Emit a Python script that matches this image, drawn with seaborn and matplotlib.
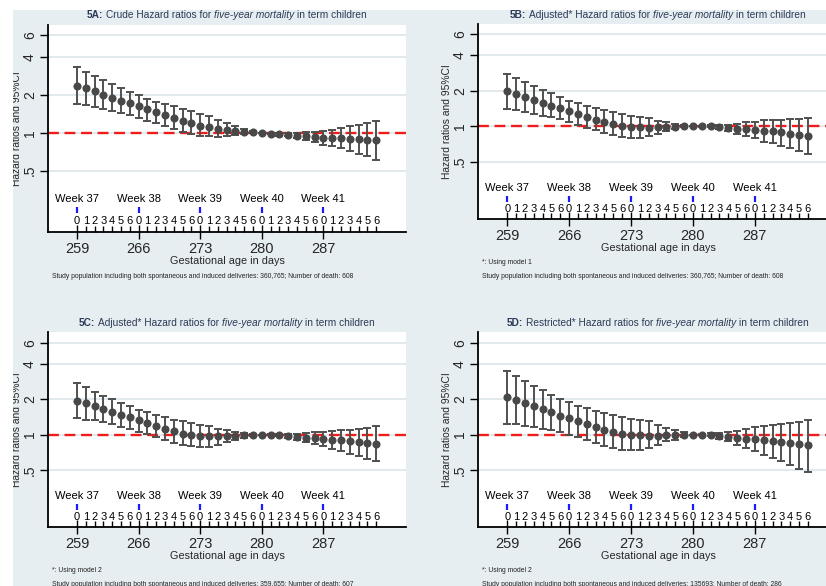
import matplotlib
matplotlib.use("Agg")
import matplotlib.pyplot as plt
import numpy as np
import pandas as pd
import seaborn as sns
from matplotlib.transforms import blended_transform_factory, ScaledTranslation
from matplotlib.ticker import FixedLocator, NullLocator
from matplotlib.patches import Rectangle

# ---------------- data ----------------
days = list(range(259, 294))
day_of_week_labels = ["0", "1", "2", "3", "4", "5", "6"] * 5
week_days = [259, 266, 273, 280, 287]
week_labels = ["Week 37", "Week 38", "Week 39", "Week 40", "Week 41"]
major_tick_labels = ["259", "266", "273", "280", "287"]
y_ticks = [0.5, 1, 2, 4, 6]
y_tick_labels = [".5", "1", "2", "4", "6"]

hr_a = [2.37, 2.26, 2.13, 2.01, 1.90, 1.79, 1.71, 1.62, 1.54, 1.45, 1.39, 1.31, 1.25, 1.19, 1.14, 1.11, 1.08, 1.06,
        1.04, 1.02, 1.01, 1.00, 0.98, 0.97, 0.96, 0.95, 0.935, 0.92, 0.91, 0.91, 0.90, 0.89, 0.885, 0.88, 0.87]
hi_a = [3.31, 3.06, 2.83, 2.61, 2.43, 2.26, 2.10, 1.99, 1.86, 1.76, 1.68, 1.62, 1.55, 1.48, 1.41, 1.35, 1.27, 1.20,
        1.13, 1.07, 1.03, 1.00, 0.99, 0.99, 0.99, 1.00, 1.01, 1.02, 1.04, 1.06, 1.09, 1.13, 1.16, 1.19, 1.23]
lo_a = [1.70, 1.65, 1.60, 1.53, 1.48, 1.43, 1.37, 1.31, 1.25, 1.19, 1.13, 1.075, 1.01, 0.98, 0.95, 0.935, 0.92, 0.94,
        0.96, 0.975, 0.99, 1.00, 0.97, 0.95, 0.935, 0.91, 0.88, 0.84, 0.80, 0.78, 0.75, 0.71, 0.68, 0.65, 0.61]

hr_b = [1.97, 1.87, 1.77, 1.68, 1.58, 1.49, 1.41, 1.33, 1.26, 1.19, 1.13, 1.08, 1.05, 1.007, 0.98, 0.974, 0.968, 0.974,
        0.98, 0.987, 0.993, 1.00, 1.00, 0.993, 0.98, 0.962, 0.949, 0.937, 0.924, 0.912, 0.90, 0.883, 0.86, 0.844, 0.826]
hi_b = [2.79, 2.56, 2.36, 2.18, 2.03, 1.89, 1.75, 1.64, 1.56, 1.47, 1.41, 1.36, 1.31, 1.27, 1.22, 1.19, 1.16, 1.11,
        1.075, 1.04, 1.015, 1.00, 1.01, 1.02, 1.02, 1.026, 1.047, 1.075, 1.09, 1.12, 1.125, 1.13, 1.15, 1.155, 1.18]
lo_b = [1.40, 1.36, 1.32, 1.27, 1.22, 1.185, 1.15, 1.09, 1.026, 0.968, 0.92, 0.88, 0.84, 0.81, 0.79, 0.795, 0.817, 0.86,
        0.90, 0.943, 0.975, 1.00, 0.99, 0.975, 0.943, 0.906, 0.86, 0.817, 0.785, 0.74, 0.716, 0.68, 0.65, 0.617, 0.58]

hr_c = [1.95, 1.85, 1.74, 1.65, 1.57, 1.48, 1.41, 1.32, 1.26, 1.19, 1.12, 1.07, 1.02, 0.993, 0.974, 0.968, 0.968, 0.968,
        0.974, 0.987, 0.993, 1.00, 1.00, 0.993, 0.98, 0.962, 0.943, 0.93, 0.918, 0.906, 0.895, 0.877, 0.86, 0.844, 0.833]
hi_c = [2.74, 2.53, 2.32, 2.15, 2.00, 1.87, 1.74, 1.63, 1.55, 1.46, 1.41, 1.34, 1.30, 1.26, 1.21, 1.18, 1.12, 1.09,
        1.06, 1.033, 1.02, 1.00, 1.01, 1.01, 1.02, 1.02, 1.033, 1.047, 1.06, 1.075, 1.09, 1.10, 1.125, 1.14, 1.18]
lo_c = [1.38, 1.34, 1.32, 1.28, 1.24, 1.16, 1.12, 1.06, 1.013, 0.955, 0.90, 0.85, 0.817, 0.80, 0.785, 0.79, 0.82, 0.86,
        0.895, 0.937, 0.97, 1.00, 0.99, 0.98, 0.937, 0.906, 0.866, 0.838, 0.80, 0.755, 0.72, 0.685, 0.654, 0.62, 0.59]

hr_d = [2.08, 1.96, 1.86, 1.74, 1.64, 1.55, 1.45, 1.38, 1.30, 1.22, 1.15, 1.10, 1.05, 1.02, 1.00, 0.987, 0.98, 0.98,
        0.987, 0.987, 0.993, 1.00, 1.00, 0.993, 0.974, 0.949, 0.93, 0.918, 0.912, 0.90, 0.883, 0.872, 0.85, 0.833, 0.81]
hi_d = [3.46, 3.14, 2.85, 2.60, 2.39, 2.19, 2.03, 1.89, 1.77, 1.67, 1.59, 1.53, 1.46, 1.41, 1.36, 1.32, 1.30, 1.21,
        1.14, 1.09, 1.047, 1.00, 1.01, 1.026, 1.033, 1.053, 1.08, 1.12, 1.16, 1.18, 1.20, 1.23, 1.26, 1.29, 1.32]
lo_d = [1.24, 1.22, 1.19, 1.16, 1.125, 1.09, 1.047, 1.00, 0.95, 0.895, 0.84, 0.80, 0.765, 0.745, 0.74, 0.735, 0.765, 0.82,
        0.877, 0.906, 0.95, 1.00, 0.99, 0.968, 0.918, 0.877, 0.82, 0.77, 0.72, 0.675, 0.633, 0.59, 0.555, 0.51, 0.48]

titles = [
    ("5A:", "Crude Hazard ratios for"),
    ("5B:", "Adjusted* Hazard ratios for"),
    ("5C:", "Adjusted* Hazard ratios for"),
    ("5D:", "Restricted* Hazard ratios for"),
]
title_italic = "five-year mortality"
title_tail = "in term children"
notes = [
    ["Study population including both spontaneous and induced deliveries: 360,765; Number of death: 608"],
    ["*: Using model 1", "Study population including both spontaneous and induced deliveries: 360,765; Number of death: 608"],
    ["*: Using model 2", "Study population including both spontaneous and induced deliveries: 359,655; Number of death: 607"],
    ["*: Using model 2", "Study population including both spontaneous and induced deliveries: 135693; Number of death: 286"],
]
series = [(hr_a, lo_a, hi_a), (hr_b, lo_b, hi_b), (hr_c, lo_c, hi_c), (hr_d, lo_d, hi_d)]

# ---------------- layout (pixels) ----------------
W, H, DPI = 826, 586, 100
# (left, top, right, bottom, y-top limit, week text offset, week mark offset, digit offset)
boxes = [
    (48, 25, 406, 232, 7.16, 33, 22, 11),
    (478, 24, 838, 219, 7.34, 31, 20, 10),
    (48, 332, 406, 527, 7.5, 31, 20, 10),
    (478, 332, 838, 527, 7.5, 31, 20, 10),
]
XLIM = (255.7, 296.4)
YBOT = 0.163

BG = "#e7eef1"
GRID = "#e2e9ed"
PT = "#484848"
BAR = "#505050"
TITLE_C = "#2b3a57"

sns.set_theme(style="white")
plt.rcParams["font.family"] = ["Liberation Sans", "DejaVu Sans"]

fig = plt.figure(figsize=(W / DPI, H / DPI), dpi=DPI, facecolor=BG)
fig.patches.append(Rectangle((0, 1 - 10 / H), 1, 10 / H, transform=fig.transFigure,
                             facecolor="white", edgecolor="none", zorder=0))
fig.patches.append(Rectangle((0, 0), 13 / W, 1, transform=fig.transFigure,
                             facecolor="white", edgecolor="none", zorder=0))

renderer = fig.canvas.get_renderer()


def px_to_fig(x, y):
    return x / W, 1 - y / H


def mixed_title(cx, cy, pieces, size, color):
    objs = []
    for s, w, st in pieces:
        t = fig.text(0, 0, s, fontsize=size, fontweight=w, fontstyle=st, color=color,
                     ha="left", va="center")
        objs.append(t)
    t1 = fig.text(0, 0, "a a", fontsize=size)
    t2 = fig.text(0, 0, "aa", fontsize=size)
    sp = t1.get_window_extent(renderer).width - t2.get_window_extent(renderer).width
    t1.remove(); t2.remove()
    widths = [t.get_window_extent(renderer).width for t in objs]
    total = sum(widths) + sp * (len(objs) - 1)
    x = cx - total / 2
    for t, wd in zip(objs, widths):
        t.set_position(px_to_fig(x, cy))
        x += wd + sp


for idx, ((hr, lo, hi), box, (tb, tp), nts) in enumerate(zip(series, boxes, titles, notes)):
    left, top, right, bottom, ytop, wk_off, mk_off, dg_off = box
    ax = fig.add_axes([left / W, 1 - bottom / H, (right - left) / W, (bottom - top) / H])
    ax.set_facecolor("white")
    df = pd.DataFrame({"day": days, "hr": hr, "lo": lo, "hi": hi})

    ax.set_yscale("log")
    ax.axhline(1, color="#ee1c1c", lw=1.7, dashes=(4.6, 2.4), zorder=2)
    ax.errorbar(df["day"], df["hr"], yerr=[df["hr"] - df["lo"], df["hi"] - df["hr"]],
                fmt="none", ecolor=BAR, elinewidth=1.4, capsize=2.8, capthick=1.4, zorder=3)
    sns.scatterplot(data=df, x="day", y="hr", ax=ax, color=PT, s=34, linewidth=0, zorder=4)

    ax.set_xlim(*XLIM)
    ax.set_ylim(YBOT, ytop)
    ax.set_yticks(y_ticks)
    ax.set_yticklabels(y_tick_labels, rotation=90, va="center", fontsize=10)
    ax.yaxis.set_minor_locator(NullLocator())
    ax.grid(axis="y", which="major", color=GRID, lw=1.4, zorder=0)
    ax.set_axisbelow(True)

    ax.set_xticks(week_days)
    ax.set_xticklabels(major_tick_labels, fontsize=10.5)
    ax.xaxis.set_minor_locator(FixedLocator(days))
    ax.tick_params(axis="x", which="major", direction="inout", length=10, width=1.0, pad=2, color="black",
                   bottom=True)
    ax.tick_params(axis="x", which="minor", direction="in", length=4.5, width=1.0, color="black",
                   bottom=True)
    ax.tick_params(axis="y", which="major", direction="out", length=5.5, width=1.0, pad=2.5, color="black",
                   left=True)

    for sp in ["top", "right"]:
        ax.spines[sp].set_visible(False)
    for sp in ["left", "bottom"]:
        ax.spines[sp].set_color("black")
        ax.spines[sp].set_linewidth(1.3)

    w_px = right - left
    h_px = bottom - top
    ax.set_ylabel("Hazard ratios and 95%CI", fontsize=7.4)
    ax.yaxis.set_label_coords(-31 / w_px, 0.5)
    ax.yaxis.label.set_va("center")
    ax.set_xlabel("Gestational age in days", fontsize=7.8)
    ax.xaxis.set_label_coords(0.5, -29 / h_px)
    ax.xaxis.label.set_va("center")

    trans = blended_transform_factory(ax.transData, ax.transAxes)
    for d, lab in zip(days, day_of_week_labels):
        ax.annotate(lab, xy=(d, 0), xycoords=trans, xytext=(0, dg_off * 0.72), textcoords="offset points",
                    ha="center", va="center", fontsize=8, color="black", annotation_clip=False)
    for d, lab in zip(week_days, week_labels):
        ax.annotate(lab, xy=(d, 0), xycoords=trans, xytext=(0, wk_off * 0.72), textcoords="offset points",
                    ha="center", va="center", fontsize=8, color="black", annotation_clip=False)
        ax.plot([d], [0], marker="|", ms=4.5, mew=1.6, color="#1a1aff", clip_on=False,
                transform=trans + ScaledTranslation(0, mk_off / DPI, fig.dpi_scale_trans))

    mixed_title((left + right) / 2, top - 9.5,
                [(tb, "bold", "normal"), (tp, "normal", "normal"),
                 (title_italic, "normal", "italic"), (title_tail, "normal", "normal")],
                7.3, TITLE_C)

    for k, nt in enumerate(nts):
        fig.text(*px_to_fig(left + 4, bottom + 44 + 13 * k), nt, fontsize=4.85, color="#222222",
                 ha="left", va="center")

fig.savefig("out.png", dpi=DPI, facecolor=fig.get_facecolor())
